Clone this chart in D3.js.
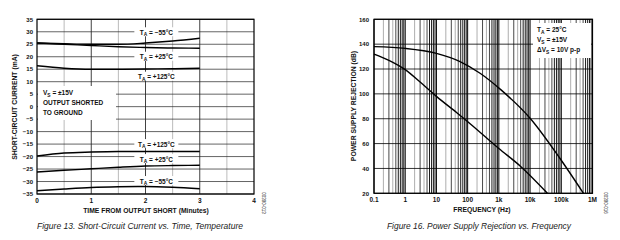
<!DOCTYPE html>
<html>
<head>
<meta charset="utf-8">
<script src="https://cdn.jsdelivr.net/npm/d3@7"></script>
<style>
  body { margin: 0; background: #fff; }
  text { font-family: "Liberation Sans", Arial, sans-serif; font-weight: bold; fill: #111; }
  .cap { font-family: "Liberation Sans Narrow", "Liberation Sans", sans-serif; font-style: italic; font-weight: normal; fill: #222; }
</style>
</head>
<body>
<svg id="chart" width="620" height="240"></svg>
<script>
// ---- left chart data (short-circuit current vs time)
var timeTicks = [0, 1, 2, 3, 4];
var currentTicks = [35, 30, 25, 20, 15, 10, 5, 0, -5, -10, -15, -20, -25, -30, -35];
var tTime = [0, 0.5, 1, 1.5, 2, 2.5, 3];
var srcM55 = [25.5, 25.2, 25.0, 25.0, 25.5, 26.3, 27.4];
var src25 = [25.5, 25.0, 24.5, 24.0, 23.7, 23.5, 23.4];
var src125 = [16.4, 15.4, 15.0, 15.0, 15.1, 15.2, 15.4];
var snk125 = [-19.8, -18.6, -18.2, -18.0, -18.0, -18.0, -18.0];
var snk25 = [-26.2, -25.5, -24.9, -24.3, -23.8, -23.6, -23.5];
var snkM55 = [-33.7, -33.0, -32.4, -32.1, -32.0, -32.3, -32.9];
var curveLabels = ["−55°C", "+25°C", "+125°C", "+125°C", "+25°C", "−55°C"];
var labelVals = [29.8, 20, 12, -15, -21, -29.8];

// ---- right chart data (PSRR vs frequency)
var freqTicks = [0.1, 1, 10, 100, 1e3, 1e4, 1e5, 1e6];
var freqTickLabels = ["0.1", "1", "10", "100", "1k", "10k", "100k", "1M"];
var dbTicks = [20, 40, 60, 80, 100, 120, 140, 160];
var fUpper = [0.1, 1, 10, 57, 250, 1200, 10000, 91000, 513000];
var dbUpper = [138, 136.6, 132.6, 126, 116.6, 103, 80.4, 48, 20];
var fLower = [0.1, 0.3, 1, 3, 10, 45, 120, 1000, 4800, 36000];
var dbLower = [132, 127, 119.5, 109.5, 98, 84.8, 76, 56, 42, 20];

var svg = d3.select("#chart");

function sub(t, main, s, rest) {
  t.append("tspan").text(main);
  t.append("tspan").attr("dy", 1.5).attr("font-size", "0.75em").text(s);
  t.append("tspan").attr("dy", -1.5).text(rest);
}

// ================= LEFT =================
var L = { x0: 37, x1: 254, y0: 19.3, y1: 194 };
var xT = d3.scaleLinear().domain([0, 4]).range([L.x0, L.x1]);
var yI = d3.scaleLinear().domain([-35, 35]).range([L.y1, L.y0]);
var gl = svg.append("g");

d3.range(0.5, 4, 1).forEach(function (v) {
  gl.append("line").attr("x1", xT(v)).attr("x2", xT(v)).attr("y1", L.y0).attr("y2", L.y1)
    .attr("stroke", "#aaa").attr("stroke-width", 0.8);
});
[1, 2, 3].forEach(function (v) {
  gl.append("line").attr("x1", xT(v)).attr("x2", xT(v)).attr("y1", L.y0).attr("y2", L.y1)
    .attr("stroke", "#111").attr("stroke-width", 0.8);
});
currentTicks.forEach(function (v) {
  gl.append("line").attr("x1", L.x0).attr("x2", L.x1).attr("y1", yI(v)).attr("y2", yI(v))
    .attr("stroke", "#222").attr("stroke-width", 0.7);
});

var lineT = d3.line().x(function (d) { return xT(d[0]); }).y(function (d) { return yI(d[1]); })
  .curve(d3.curveMonotoneX);
[srcM55, src25, src125, snk125, snk25, snkM55].forEach(function (s) {
  gl.append("path").attr("d", lineT(tTime.map(function (t, i) { return [t, s[i]]; })))
    .attr("fill", "none").attr("stroke", "#000").attr("stroke-width", 1.4);
});

curveLabels.forEach(function (lab, i) {
  var cx = xT(2.2), cy = yI(labelVals[i]);
  gl.append("rect").attr("x", cx - 22).attr("y", cy - 5).attr("width", 44).attr("height", 9).attr("fill", "#fff");
  var t = gl.append("text").attr("x", cx).attr("y", cy + 2.5).attr("text-anchor", "middle").attr("font-size", 6.5);
  sub(t, "T", "A", " = " + lab);
});

gl.append("rect").attr("x", L.x0 + 1).attr("y", 86).attr("width", 78).attr("height", 34).attr("fill", "#fff");
var vs = gl.append("text").attr("x", 43).attr("y", 95).attr("font-size", 6.5);
sub(vs, "V", "S", " = ±15V");
gl.append("text").attr("x", 43).attr("y", 105).attr("font-size", 6.5).text("OUTPUT SHORTED");
gl.append("text").attr("x", 43).attr("y", 115).attr("font-size", 6.5).text("TO GROUND");

gl.append("rect").attr("x", L.x0).attr("y", L.y0).attr("width", L.x1 - L.x0).attr("height", L.y1 - L.y0)
  .attr("fill", "none").attr("stroke", "#000").attr("stroke-width", 1.2);

currentTicks.forEach(function (v) {
  gl.append("text").attr("x", 33).attr("y", yI(v) + 2.2).attr("text-anchor", "end").attr("font-size", 6)
    .text(v < 0 ? "−" + (-v) : v);
});
timeTicks.forEach(function (v) {
  gl.append("text").attr("x", xT(v)).attr("y", 203).attr("text-anchor", "middle").attr("font-size", 6.5).text(v);
});
gl.append("text").attr("x", 146).attr("y", 213).attr("text-anchor", "middle").attr("font-size", 6.8)
  .text("TIME FROM OUTPUT SHORT (Minutes)");
gl.append("text").attr("transform", "translate(17,107) rotate(-90)").attr("text-anchor", "middle")
  .attr("font-size", 6.8).text("SHORT-CIRCUIT CURRENT (mA)");
gl.append("text").attr("class", "cap").attr("x", 37).attr("y", 229).attr("font-size", 8.5)
  .attr("textLength", 206).attr("lengthAdjust", "spacingAndGlyphs")
  .text("Figure 13. Short-Circuit Current vs. Time, Temperature");
gl.append("text").attr("transform", "translate(262,203) rotate(90)").attr("text-anchor", "middle")
  .attr("font-size", 4.5).attr("fill", "#555").style("font-weight", "normal").text("00390-013");

// ================= RIGHT =================
var R = { x0: 374, x1: 592.5, y0: 19.3, y1: 193.3 };
var xF = d3.scaleLog().domain([0.1, 1e6]).range([R.x0, R.x1]);
var yD = d3.scaleLinear().domain([20, 160]).range([R.y1, R.y0]);
var gr = svg.append("g");

freqTicks.slice(0, -1).forEach(function (dec) {
  d3.range(2, 10).forEach(function (m) {
    var f = dec * m;
    gr.append("line").attr("x1", xF(f)).attr("x2", xF(f)).attr("y1", R.y0).attr("y2", R.y1)
      .attr("stroke", (m === 2 || m === 4) ? "#999" : "#1a1a1a").attr("stroke-width", m > 5 ? 1 : 0.8);
  });
  gr.append("line").attr("x1", xF(dec)).attr("x2", xF(dec)).attr("y1", R.y0).attr("y2", R.y1)
    .attr("stroke", "#000").attr("stroke-width", 1);
});
dbTicks.forEach(function (v) {
  gr.append("line").attr("x1", R.x0).attr("x2", R.x1).attr("y1", yD(v)).attr("y2", yD(v))
    .attr("stroke", "#000").attr("stroke-width", 0.8);
});

var lineF = d3.line().x(function (d) { return xF(d[0]); }).y(function (d) { return yD(d[1]); })
  .curve(d3.curveMonotoneX);
gr.append("path").attr("d", lineF(fUpper.map(function (f, i) { return [f, dbUpper[i]]; })))
  .attr("fill", "none").attr("stroke", "#000").attr("stroke-width", 1.4);
gr.append("path").attr("d", lineF(fLower.map(function (f, i) { return [f, dbLower[i]]; })))
  .attr("fill", "none").attr("stroke", "#000").attr("stroke-width", 1.4);

gr.append("rect").attr("x", 533).attr("y", 23).attr("width", 58).attr("height", 35).attr("fill", "#fff");
var ta = gr.append("text").attr("x", 537).attr("y", 32).attr("font-size", 6.5);
sub(ta, "T", "A", " = 25°C");
var vs2 = gr.append("text").attr("x", 537).attr("y", 42).attr("font-size", 6.5);
sub(vs2, "V", "S", " = ±15V");
var dv = gr.append("text").attr("x", 537).attr("y", 52).attr("font-size", 6.5);
sub(dv, "ΔV", "S", " = 10V p-p");

gr.append("rect").attr("x", R.x0).attr("y", R.y0).attr("width", R.x1 - R.x0).attr("height", R.y1 - R.y0)
  .attr("fill", "none").attr("stroke", "#000").attr("stroke-width", 1.2);

dbTicks.forEach(function (v) {
  gr.append("text").attr("x", 369).attr("y", yD(v) + 2.2).attr("text-anchor", "end").attr("font-size", 6).text(v);
});
freqTicks.forEach(function (f, i) {
  gr.append("text").attr("x", xF(f)).attr("y", 202).attr("text-anchor", "middle").attr("font-size", 6.5)
    .text(freqTickLabels[i]);
});
gr.append("text").attr("x", 482).attr("y", 212).attr("text-anchor", "middle").attr("font-size", 6.8)
  .text("FREQUENCY (Hz)");
gr.append("text").attr("transform", "translate(356,106) rotate(-90)").attr("text-anchor", "middle")
  .attr("font-size", 6.8).text("POWER SUPPLY REJECTION (dB)");
gr.append("text").attr("class", "cap").attr("x", 387).attr("y", 229).attr("font-size", 8.5)
  .attr("textLength", 184).attr("lengthAdjust", "spacingAndGlyphs")
  .text("Figure 16. Power Supply Rejection vs. Frequency");
gr.append("text").attr("transform", "translate(604,203) rotate(90)").attr("text-anchor", "middle")
  .attr("font-size", 4.5).attr("fill", "#555").style("font-weight", "normal").text("00390-016");
</script>
</body>
</html>
